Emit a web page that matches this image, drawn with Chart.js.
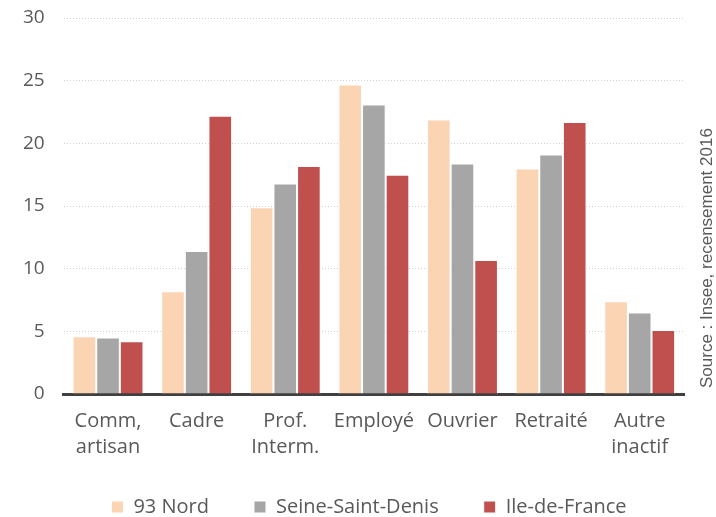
<!DOCTYPE html>
<html>
<head>
<meta charset="utf-8">
<script src="https://cdn.jsdelivr.net/npm/chart.js@4/dist/chart.umd.min.js"></script>
<style>
  html, body { margin: 0; padding: 0; background: #fff; }
  #wrap { width: 716px; height: 517px; }
</style>
</head>
<body>
<div id="wrap"><canvas id="chart" width="716" height="517"></canvas></div>
<script>
// categories and series
const categories = [["Comm,", "artisan"], "Cadre", ["Prof.", "Interm."], "Employé", "Ouvrier", "Retraité", ["Autre", "inactif"]];
const nord93 = [4.6, 8.2, 14.9, 24.7, 21.9, 18.0, 7.4];
const seineSaintDenis = [4.5, 11.4, 16.8, 23.1, 18.4, 19.1, 6.5];
const ileDeFrance = [4.2, 22.2, 18.2, 17.5, 10.7, 21.7, 5.1];
const yTicks = [0, 5, 10, 15, 20, 25, 30];
const sourceText = "Source : Insee, recensement 2016";

// rotated source note on the right
const sourcePlugin = {
    id: "sourceNote",
    afterDraw(chart) {
        const ctx = chart.ctx;
        const area = chart.chartArea;
        ctx.save();
        ctx.translate(712, area.bottom - 6);
        ctx.rotate(-Math.PI / 2);
        ctx.font = "17px 'Liberation Sans'";
        ctx.fillStyle = "#595959";
        ctx.textAlign = "left";
        ctx.textBaseline = "alphabetic";
        ctx.fillText(sourceText, 0, 0);
        ctx.restore();
    }
};

// wide horizontal gaps between legend items, but a short legend box
const legendSpacing = {
    id: "legendSpacing",
    beforeInit(chart) {
        const legend = chart.legend;
        const fit = legend.fit;
        legend.fit = function () {
            fit.call(this);
            this.height = 57;
        };
    },
    afterLayout(chart) {
        chart.legend.top -= 8;
        chart.legend.left += 25;
        chart.legend.right += 25;
    }
};

Chart.defaults.font.family = "'Open Sans', sans-serif";
Chart.defaults.color = "#595959";

new Chart(document.getElementById("chart"), {
    type: "bar",
    data: {
        labels: categories,
        datasets: [
            { label: "93 Nord", data: nord93, backgroundColor: "#FBD4B4" },
            { label: "Seine-Saint-Denis", data: seineSaintDenis, backgroundColor: "#A6A6A6" },
            { label: "Ile-de-France", data: ileDeFrance, backgroundColor: "#C0504D" }
        ].map(d => Object.assign(d, { borderColor: "#ffffff", borderWidth: 1, categoryPercentage: 0.8, barPercentage: 1.0 }))
    },
    options: {
        responsive: false,
        animation: false,
        layout: { padding: { top: 0, right: 32, left: 4, bottom: 0 } },
        plugins: {
            legend: {
                position: "bottom",
                labels: {
                    font: { size: 20 },
                    color: "#595959",
                    boxWidth: 12,
                    boxHeight: 12,
                    padding: 45
                }
            },
            tooltip: { enabled: false }
        },
        scales: {
            x: {
                grid: { display: false, drawTicks: false },
                border: { display: true, color: "#404040", width: 3 },
                ticks: { font: { size: 20, lineHeight: 1.3 }, color: "#595959", padding: 14 },
                afterFit(scale) { scale.height -= scale.options.ticks.padding; }
            },
            y: {
                min: 0,
                max: 30,
                afterBuildTicks(scale) { scale.ticks = yTicks.map(v => ({ value: v })); },
                afterFit(scale) { scale.paddingTop = 18; },
                grid: { color: "#d0d0d0", drawTicks: false, lineWidth: 1 },
                border: { display: false, dash: [1, 2] },
                ticks: { font: { size: 19 }, color: "#595959", padding: 19 }
            }
        }
    },
    plugins: [sourcePlugin, legendSpacing]
});
</script>
</body>
</html>
